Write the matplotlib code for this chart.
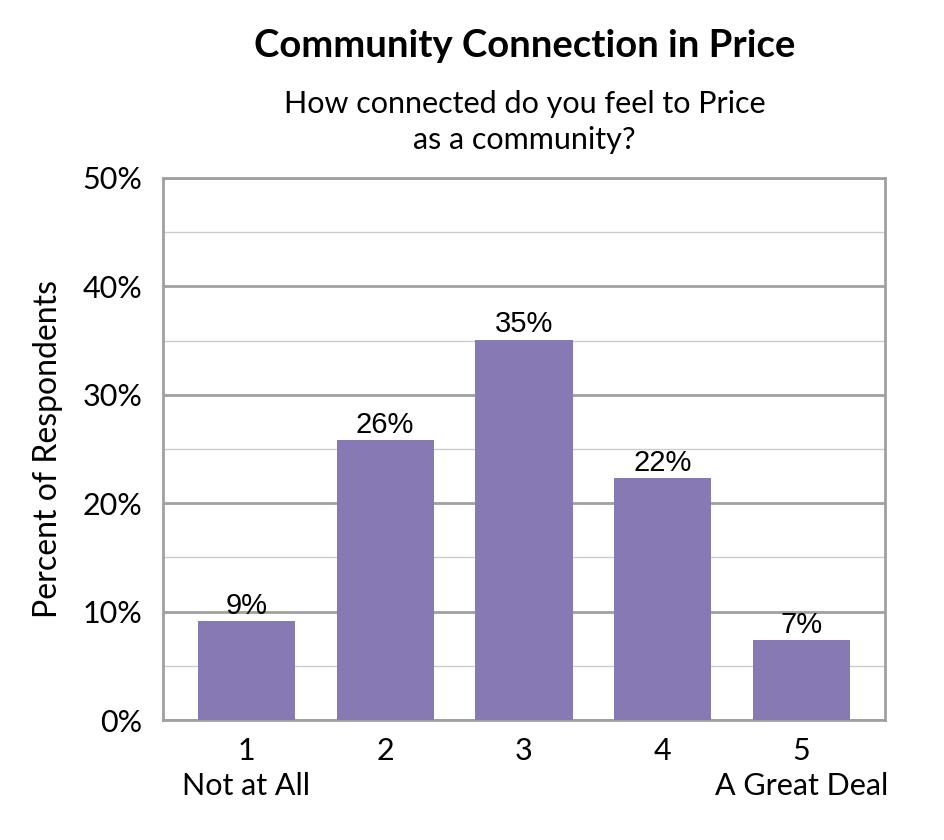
import matplotlib.pyplot as plt
import numpy as np
from matplotlib.ticker import MultipleLocator, PercentFormatter

categories = ['1\nNot at All', '2', '3', '4', '5\nA Great Deal']
values = [9.1, 25.8, 35.1, 22.3, 7.4]
labels = ['9%', '26%', '35%', '22%', '7%']

plt.rcParams['font.family'] = ['Lato', 'DejaVu Sans']

fig = plt.figure(figsize=(9.45, 8.4), dpi=100)
ax = fig.add_axes([163 / 945, 1 - 720 / 840, 722 / 945, 542 / 840])

x = np.arange(len(categories))
ax.bar(x, values, width=0.7, color='#8779b4', zorder=3)
for xi, v, lab in zip(x, values, labels):
    ax.text(xi, v + 0.1, lab, ha='center', va='bottom', fontsize=21,
            family=['Liberation Sans', 'DejaVu Sans'], zorder=4)

ax.set_xlim(-0.6, 4.6)
ax.set_ylim(0, 50)
ax.yaxis.set_major_locator(MultipleLocator(10))
ax.yaxis.set_minor_locator(MultipleLocator(5))
ax.yaxis.set_major_formatter(PercentFormatter(decimals=0))
ax.grid(axis='y', which='major', color='#a0a0a0', linewidth=2, zorder=0)
ax.grid(axis='y', which='minor', color='#cccccc', linewidth=1, zorder=0)
ax.tick_params(axis='y', which='both', length=0, labelsize=22, pad=15)
ax.tick_params(axis='x', length=0, labelsize=22, pad=12)
ax.set_xticks(x)
ax.set_xticklabels(categories, linespacing=1.3)
for s in ax.spines.values():
    s.set_color('#a0a0a0')
    s.set_linewidth(2)

ax.set_ylabel('Percent of Respondents', fontsize=23, labelpad=14)

fig.text(0.555, 1 - 46 / 840, 'Community Connection in Price', ha='center', va='center',
         fontsize=27.5, fontweight='bold')
fig.text(0.555, 1 - 122 / 840, 'How connected do you feel to Price\nas a community?',
         ha='center', va='center', fontsize=22, linespacing=1.35)

plt.savefig('out.png', dpi=100)
